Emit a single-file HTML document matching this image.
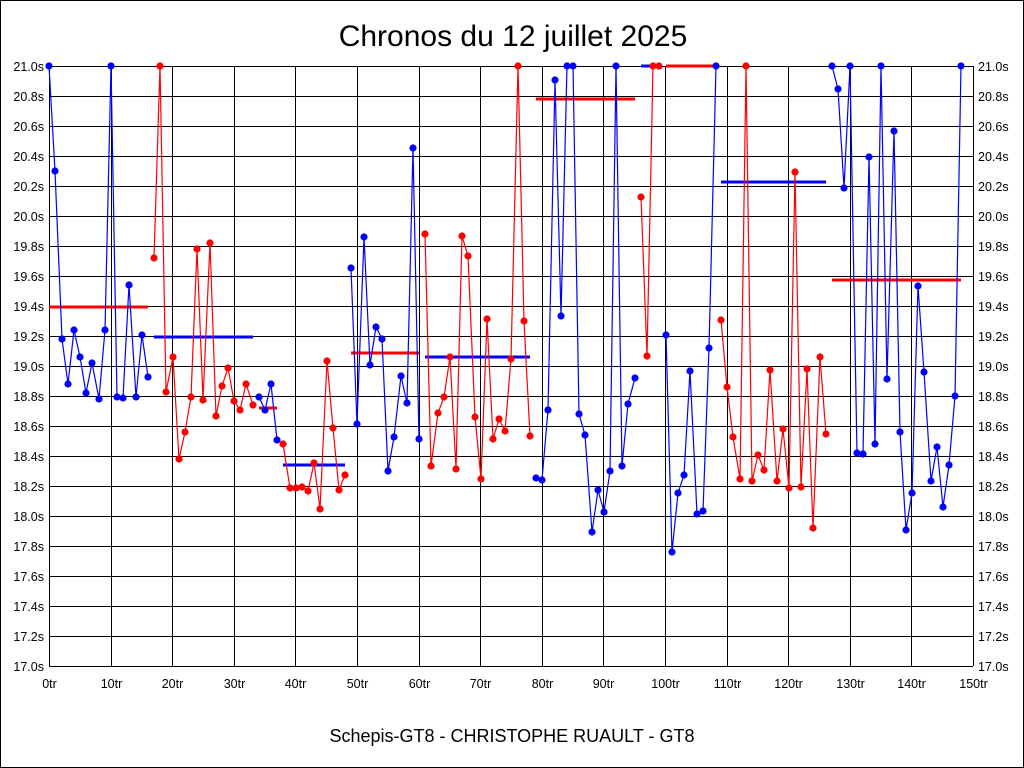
<!DOCTYPE html>
<html><head><meta charset="utf-8"><style>
body{margin:0;background:#fff}
svg{display:block;font-family:"Liberation Sans",sans-serif}
</style></head><body>
<svg width="1024" height="768" xmlns="http://www.w3.org/2000/svg">
<rect x="0.5" y="0.5" width="1023" height="767" fill="#fff" stroke="#000"/>
<text x="513" y="46" font-size="30" text-anchor="middle">Chronos du 12 juillet 2025</text>
<text x="512" y="742" font-size="18" text-anchor="middle">Schepis-GT8 - CHRISTOPHE RUAULT - GT8</text>
<g id="grid" stroke="#000" stroke-width="1"></g>
<g id="lab" font-size="12.5"></g>
<g id="data"></g>
<script>
var ns="http://www.w3.org/2000/svg";
function el(t,a,p,txt){var e=document.createElementNS(ns,t);for(var k in a)e.setAttribute(k,a[k]);if(txt)e.textContent=txt;p.appendChild(e);return e;}
var g=document.getElementById('grid'),lb=document.getElementById('lab'),d=document.getElementById('data');
var X0=49,X1=973,Y0=66,Y1=666;
for(var i=0;i<=20;i++){var y=Y0+i*30;el('line',{x1:X0,x2:X1,y1:y+.5,y2:y+.5},g);
var v=(21-i*0.2).toFixed(1)+'s';el('text',{x:44,y:y+5,'text-anchor':'end'},lb,v);el('text',{x:978,y:y+5},lb,v);}
for(var i=0;i<=15;i++){var x=Math.round(X0+i*(X1-X0)/15)+.5;el('line',{x1:x,x2:x,y1:Y0,y2:Y1},g);
el('text',{x:x,y:688,'text-anchor':'middle'},lb,(i*10)+'tr');}
function avg(x1,x2,y,c){el('line',{x1:x1,x2:x2,y1:y,y2:y,stroke:c,'stroke-width':3},d);}
function ser(pts,c){el('polyline',{points:pts.map(function(p){return p.join(',')}).join(' '),fill:'none',stroke:c,'stroke-width':1.2},d);
pts.forEach(function(p){el('circle',{cx:p[0],cy:p[1],r:3.6,fill:c},d);});}
var B='#0000ff',R='#ff0000';
avg(49,148,307,R);avg(154,253,337,B);avg(259,277,408,R);avg(283,345,465,B);avg(351,419,353,R);avg(425,530,357,B);avg(536,635,99,R);avg(641,659,66,B);avg(666,716,66,R);avg(721,826,182,B);avg(832,961,280,R);
ser([[49,66],[55,171],[62,339],[68,384],[74,330],[80,357],[86,393],[92,363],[99,399],[105,330],[111,66],[117,397],[123,398],[129,285],[136,397],[142,335],[148,377]],B);
ser([[154,258],[160,66],[166,392],[173,357],[179,459],[185,432],[191,397],[197,249],[203,400],[210,243],[216,416],[222,386],[228,368],[234,401],[240,410],[246,384],[253,405]],R);
ser([[259,397],[265,410],[271,384],[277,440]],B);
ser([[283,444],[290,488],[296,488],[302,487],[308,491],[314,463],[320,509],[327,361],[333,428],[339,490],[345,475]],R);
ser([[351,268],[357,424],[364,237],[370,365],[376,327],[382,339],[388,471],[394,437],[401,376],[407,403],[413,148],[419,439]],B);
ser([[425,234],[431,466],[438,413],[444,397],[450,357],[456,469],[462,236],[468,256],[475,417],[481,479],[487,319],[493,439],[499,419],[505,431],[511,359],[518,66],[524,321],[530,436]],R);
ser([[536,478],[542,480],[548,410],[555,80],[561,316],[567,66],[573,66],[579,414],[585,435],[592,532],[598,490],[604,512],[610,471],[616,66],[622,466],[628,404],[635,378]],B);
ser([[641,197],[647,356],[653,66],[659,66]],R);
ser([[666,335],[672,552],[678,493],[684,475],[690,371],[697,514],[703,511],[709,348],[716,66]],B);
ser([[721,320],[727,387],[733,437],[740,479],[746,66],[752,481],[758,455],[764,470],[770,370],[777,481],[783,429],[789,488],[795,172],[801,487],[807,369],[813,528],[820,357],[826,434]],R);
ser([[832,66],[838,89],[844,188],[850,66],[857,453],[863,454],[869,157],[875,444],[881,66],[887,379],[894,131],[900,432],[906,530],[912,493],[918,286],[924,372],[931,481],[937,447],[943,507],[949,465],[955,396],[961,66]],B);
</script>
</svg>
</body></html>
